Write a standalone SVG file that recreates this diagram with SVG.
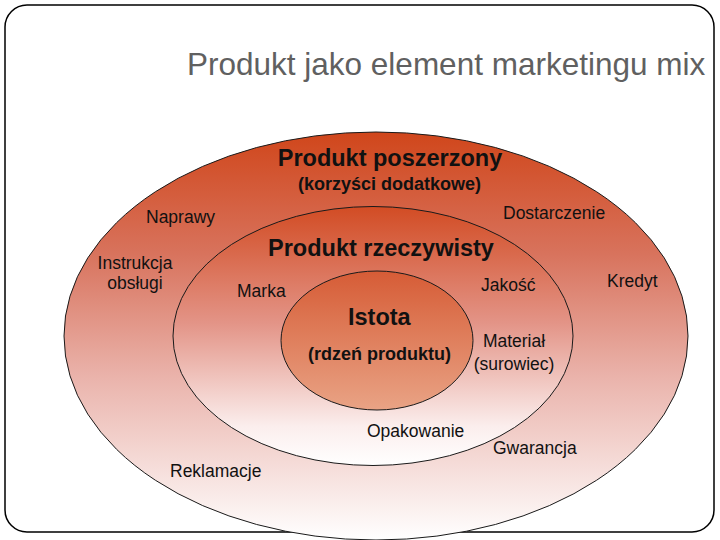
<svg xmlns="http://www.w3.org/2000/svg" width="720" height="540" viewBox="0 0 720 540">
  <style>
    .t { font-family: "Liberation Sans", Arial, sans-serif; fill: #111; }
    .lbl { font-size: 17.5px; }
    .hd { font-size: 23.5px; font-weight: bold; }
    .sub { font-size: 18px; font-weight: bold; }
    .ring { stroke: #1a1a1a; stroke-width: 1; }
  </style>
  <defs>
    <linearGradient id="gOuter" x1="0" y1="0" x2="0" y2="1">
      <stop offset="0" stop-color="#d0461b"/>
      <stop offset="0.3" stop-color="#d8735d"/>
      <stop offset="0.6" stop-color="#eab3ab"/>
      <stop offset="1" stop-color="#ffffff"/>
    </linearGradient>
    <linearGradient id="gMid" x1="0" y1="0" x2="0" y2="1">
      <stop offset="0" stop-color="#d24c24"/>
      <stop offset="0.45" stop-color="#e39487"/>
      <stop offset="0.85" stop-color="#fbeeed"/>
      <stop offset="1" stop-color="#ffffff"/>
    </linearGradient>
    <linearGradient id="gInner" x1="0" y1="0" x2="0" y2="1">
      <stop offset="0" stop-color="#d65c36"/>
      <stop offset="1" stop-color="#e9a385"/>
    </linearGradient>
  </defs>
  <rect x="5" y="5" width="709" height="527" rx="22" ry="22" fill="#ffffff" stroke="#000" stroke-width="1.5"/>
  <text class="t" x="187" y="75" font-size="31.5" style="fill:#606060">Produkt jako element marketingu mix</text>
  <g id="outer">
    <ellipse class="ring" cx="376" cy="336" rx="312" ry="204" fill="url(#gOuter)"/>
  </g>
  <g id="middle">
    <ellipse class="ring" cx="373" cy="336" rx="200" ry="129.5" fill="url(#gMid)"/>
  </g>
  <g id="inner">
    <ellipse class="ring" cx="377" cy="340.5" rx="96" ry="69.5" fill="url(#gInner)"/>
  </g>
  <g id="connectors"></g>
  <g id="labels">
    <text class="t hd" x="390" y="166" text-anchor="middle">Produkt poszerzony</text>
    <text class="t sub" x="389.5" y="190" text-anchor="middle">(korzyści dodatkowe)</text>
    <text class="t lbl" x="146" y="223">Naprawy</text>
    <text class="t lbl" x="503" y="219">Dostarczenie</text>
    <text class="t hd" x="268" y="256">Produkt rzeczywisty</text>
    <text class="t lbl" x="135" y="269" text-anchor="middle">Instrukcja</text>
    <text class="t lbl" x="135" y="289" text-anchor="middle">obsługi</text>
    <text class="t lbl" x="237" y="297">Marka</text>
    <text class="t lbl" x="481" y="291">Jakość</text>
    <text class="t lbl" x="607" y="287">Kredyt</text>
    <text class="t hd" x="348" y="325">Istota</text>
    <text class="t sub" x="308" y="360">(rdzeń produktu)</text>
    <text class="t lbl" x="514" y="347" text-anchor="middle">Materiał</text>
    <text class="t lbl" x="514" y="370" text-anchor="middle">(surowiec)</text>
    <text class="t lbl" x="367" y="437">Opakowanie</text>
    <text class="t lbl" x="493" y="454">Gwarancja</text>
    <text class="t lbl" x="170" y="477">Reklamacje</text>
  </g>
</svg>
